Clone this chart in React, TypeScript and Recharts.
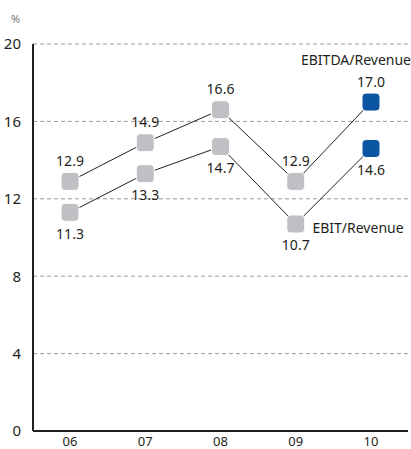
import { CartesianGrid, LabelList, Line, LineChart, XAxis, YAxis } from "recharts";

const years = ["06", "07", "08", "09", "10"];
const ebitdaMargin = [12.9, 14.9, 16.6, 12.9, 17.0];
const ebitMargin = [11.3, 13.3, 14.7, 10.7, 14.6];
const yTicks = [0, 4, 8, 12, 16, 20];

const data = years.map((year, i) => ({
  year,
  ebitda: ebitdaMargin[i],
  ebit: ebitMargin[i],
}));

const FONT = "'Noto Sans', 'Open Sans', sans-serif";
const GREY = "#bfc0c4";
const BLUE = "#0b56a2";
const INK = "#231f20";

const RoundSquare = (props: any) => {
  const { cx, cy, index } = props;
  if (cx == null || cy == null) return null;
  const s = 18;
  return (
    <rect
      x={cx - s / 2}
      y={cy - s / 2}
      width={s}
      height={s}
      rx={4}
      ry={4}
      fill={index === years.length - 1 ? BLUE : GREY}
      stroke="#fff"
      strokeWidth={1}
    />
  );
};

const makeLabel =
  (dy: number, name: string, nameDx: number, nameDy: number) => (props: any) => {
    const { x, y, value, index } = props;
    return (
      <g>
        <text
          x={x}
          y={y + dy}
          textAnchor="middle"
          fontSize={14}
          fontFamily={FONT}
          fill={INK}
          dominantBaseline="central"
        >
          {Number(value).toFixed(1)}
        </text>
        {index === years.length - 1 && (
          <text
            x={x + nameDx}
            y={y + nameDy}
            textAnchor="middle"
            fontSize={14}
            fontFamily={FONT}
            fill={INK}
            dominantBaseline="central"
          >
            {name}
          </text>
        )}
      </g>
    );
  };

export default function App() {
  return (
    <div style={{ position: "absolute", left: 0, top: 0, width: 411, height: 449, background: "#fff" }}>
      <div
        style={{
          position: "absolute",
          left: 11,
          top: 11,
          fontSize: 11,
          fontFamily: FONT,
          color: "#777",
        }}
      >
        %
      </div>
      <LineChart
        width={411}
        height={449}
        data={data}
        margin={{ top: 44, right: 3, bottom: 0, left: 0 }}
      >
        <CartesianGrid
          vertical={false}
          stroke="#9a9a9a"
          strokeDasharray="4 3"
        />
        <XAxis
          dataKey="year"
          axisLine={{ stroke: INK, strokeWidth: 2 }}
          tickLine={false}
          height={18}
          padding={{ left: 37, right: 37 }}
          tick={{ fontSize: 13, fontFamily: FONT, fill: INK }}
          tickMargin={0}
        />
        <YAxis
          domain={[0, 20]}
          ticks={yTicks}
          width={33}
          axisLine={{ stroke: INK, strokeWidth: 2 }}
          tickLine={false}
          tick={{ fontSize: 15, fontFamily: FONT, fill: INK }}
          tickMargin={6}
        />
        <Line
          dataKey="ebitda"
          stroke={INK}
          strokeWidth={1}
          dot={<RoundSquare />}
          activeDot={false}
          isAnimationActive={false}
        >
          <LabelList dataKey="ebitda" content={makeLabel(-21, "EBITDA/Revenue", -15, -43)} />
        </Line>
        <Line
          dataKey="ebit"
          stroke={INK}
          strokeWidth={1}
          dot={<RoundSquare />}
          activeDot={false}
          isAnimationActive={false}
        >
          <LabelList dataKey="ebit" content={makeLabel(21, "EBIT/Revenue", -13, 79)} />
        </Line>
      </LineChart>
    </div>
  );
}
